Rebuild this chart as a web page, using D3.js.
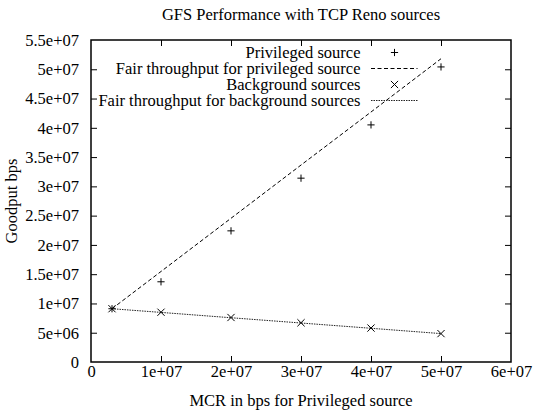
<!DOCTYPE html>
<html>
<head>
<meta charset="utf-8">
<script src="https://cdn.jsdelivr.net/npm/d3@7"></script>
<style>
  html, body { margin: 0; padding: 0; background: #fff; }
  svg { display: block; }
  text { font-family: "Liberation Serif", "Times New Roman", serif; fill: #000; }
</style>
</head>
<body>
<div id="chart"></div>
<script>
// MCR of the privileged source (bps)
const mcr = [3e6, 1e7, 2e7, 3e7, 4e7, 5e7];
// Measured goodput (bps)
const privileged = [9.1e6, 1.37e7, 2.24e7, 3.14e7, 4.05e7, 5.04e7];
const background = [9.1e6, 8.5e6, 7.6e6, 6.7e6, 5.8e6, 4.85e6];
// Fair throughput curves (bps)
const fairPrivileged = [9.1e6, 1.546e7, 2.455e7, 3.364e7, 4.27e7, 5.18e7];
const fairBackground = [9.1e6, 8.47e6, 7.56e6, 6.66e6, 5.76e6, 4.85e6];

const xTicks = [0, 1e7, 2e7, 3e7, 4e7, 5e7, 6e7];
const xTickLabels = ["0", "1e+07", "2e+07", "3e+07", "4e+07", "5e+07", "6e+07"];
const yTicks = [0, 5e6, 1e7, 1.5e7, 2e7, 2.5e7, 3e7, 3.5e7, 4e7, 4.5e7, 5e7, 5.5e7];
const yTickLabels = ["0", "5e+06", "1e+07", "1.5e+07", "2e+07", "2.5e+07", "3e+07",
                     "3.5e+07", "4e+07", "4.5e+07", "5e+07", "5.5e+07"];

const legendLabels = ["Privileged source", "Fair throughput for privileged source",
                      "Background sources", "Fair throughput for background sources"];

const W = 533, H = 410;
const margin = { left: 91, right: 22, top: 40, bottom: 48 };
const fontSize = 16.5;
const serif = '"Liberation Serif", "Times New Roman", serif';

const svg = d3.select("#chart").append("svg")
  .attr("width", W).attr("height", H);

const x = d3.scaleLinear().domain([0, 6e7]).range([margin.left, W - margin.right]);
const y = d3.scaleLinear().domain([0, 5.5e7]).range([H - margin.bottom, margin.top]);

const tickLen = 6;

// Axes with labels on left/bottom, mirrored inward ticks on all sides
const xAxis = d3.axisBottom(x).tickValues(xTicks)
  .tickFormat((d, i) => xTickLabels[i]).tickSizeInner(-tickLen).tickSizeOuter(0).tickPadding(3);
const yAxis = d3.axisLeft(y).tickValues(yTicks)
  .tickFormat((d, i) => yTickLabels[i]).tickSizeInner(-tickLen).tickSizeOuter(0).tickPadding(12);
const xAxisTop = d3.axisTop(x).tickValues(xTicks.slice(1, -1))
  .tickFormat("").tickSizeInner(-tickLen).tickSizeOuter(0);
const yAxisRight = d3.axisRight(y).tickValues(yTicks.slice(1, -1))
  .tickFormat("").tickSizeInner(-tickLen).tickSizeOuter(0);

function styleAxis(g) {
  g.select(".domain").remove();
  g.selectAll(".tick line").attr("stroke", "#000").attr("stroke-width", 1);
  g.selectAll(".tick text").attr("font-size", fontSize)
    .attr("font-family", serif).attr("fill", "#000");
}

const gx = svg.append("g").attr("transform", `translate(0,${y(0)})`).call(xAxis).call(styleAxis);
gx.selectAll(".tick text").attr("dy", "0.71em");
// the end ticks coincide with the frame
gx.selectAll(".tick").filter(d => d === 0 || d === 6e7).select("line").remove();
const gy = svg.append("g").attr("transform", `translate(${x(0)},0)`).call(yAxis).call(styleAxis);
gy.selectAll(".tick").filter(d => d === 0 || d === 5.5e7).select("line").remove();
svg.append("g").attr("transform", `translate(0,${y(5.5e7)})`).call(xAxisTop).call(styleAxis);
svg.append("g").attr("transform", `translate(${x(6e7)},0)`).call(yAxisRight).call(styleAxis);

// Plot frame
svg.append("rect")
  .attr("x", x(0)).attr("y", y(5.5e7))
  .attr("width", x(6e7) - x(0)).attr("height", y(0) - y(5.5e7))
  .attr("fill", "none").attr("stroke", "#000").attr("stroke-width", 1.5);

// Titles
svg.append("text").attr("x", (x(0) + x(6e7)) / 2).attr("y", 20)
  .attr("text-anchor", "middle").attr("font-size", fontSize)
  .text("GFS Performance with TCP Reno sources");
svg.append("text").attr("x", (x(0) + x(6e7)) / 2).attr("y", 406)
  .attr("text-anchor", "middle").attr("font-size", fontSize)
  .text("MCR in bps for Privileged source");
svg.append("text")
  .attr("transform", `translate(17,${(y(0) + y(5.5e7)) / 2}) rotate(-90)`)
  .attr("text-anchor", "middle").attr("font-size", fontSize)
  .text("Goodput bps");

const line = d3.line().x(d => x(d[0])).y(d => y(d[1]));

const dashPriv = "4,2.5";
const dashBg = "1.5,1";

// Fair throughput lines
svg.append("path").datum(mcr.map((m, i) => [m, fairPrivileged[i]]))
  .attr("d", line).attr("fill", "none").attr("stroke", "#000")
  .attr("stroke-width", 1).attr("stroke-dasharray", dashPriv);
svg.append("path").datum(mcr.map((m, i) => [m, fairBackground[i]]))
  .attr("d", line).attr("fill", "none").attr("stroke", "#222")
  .attr("stroke-width", 1).attr("stroke-dasharray", dashBg);

// Point markers
const s = 3.6;
function plus(g, cx, cy) {
  g.append("path").attr("d", `M${cx - s},${cy}H${cx + s}M${cx},${cy - s}V${cy + s}`)
    .attr("stroke", "#000").attr("stroke-width", 1).attr("fill", "none");
}
function cross(g, cx, cy) {
  g.append("path").attr("d", `M${cx - s},${cy - s}L${cx + s},${cy + s}M${cx - s},${cy + s}L${cx + s},${cy - s}`)
    .attr("stroke", "#000").attr("stroke-width", 1).attr("fill", "none");
}
const marks = svg.append("g");
mcr.forEach((m, i) => plus(marks, x(m), y(privileged[i])));
mcr.forEach((m, i) => cross(marks, x(m), y(background[i])));

// Legend
const legend = svg.append("g");
const textRight = 360.5, sampleL = 371, sampleR = 417.5, sampleC = 394.5;
const rowY0 = 52.5, rowDy = 16;
legendLabels.forEach((lab, i) => {
  const cy = rowY0 + i * rowDy;
  legend.append("text").attr("x", textRight).attr("y", cy).attr("dy", "0.33em")
    .attr("text-anchor", "end").attr("font-size", fontSize).text(lab);
  if (i === 0) plus(legend, sampleC, cy);
  if (i === 2) cross(legend, sampleC, cy);
  if (i === 1 || i === 3) {
    legend.append("line").attr("x1", sampleL).attr("x2", sampleR)
      .attr("y1", cy).attr("y2", cy)
      .attr("stroke", i === 1 ? "#000" : "#222").attr("stroke-width", 1)
      .attr("stroke-dasharray", i === 1 ? dashPriv : dashBg);
  }
});
</script>
</body>
</html>
